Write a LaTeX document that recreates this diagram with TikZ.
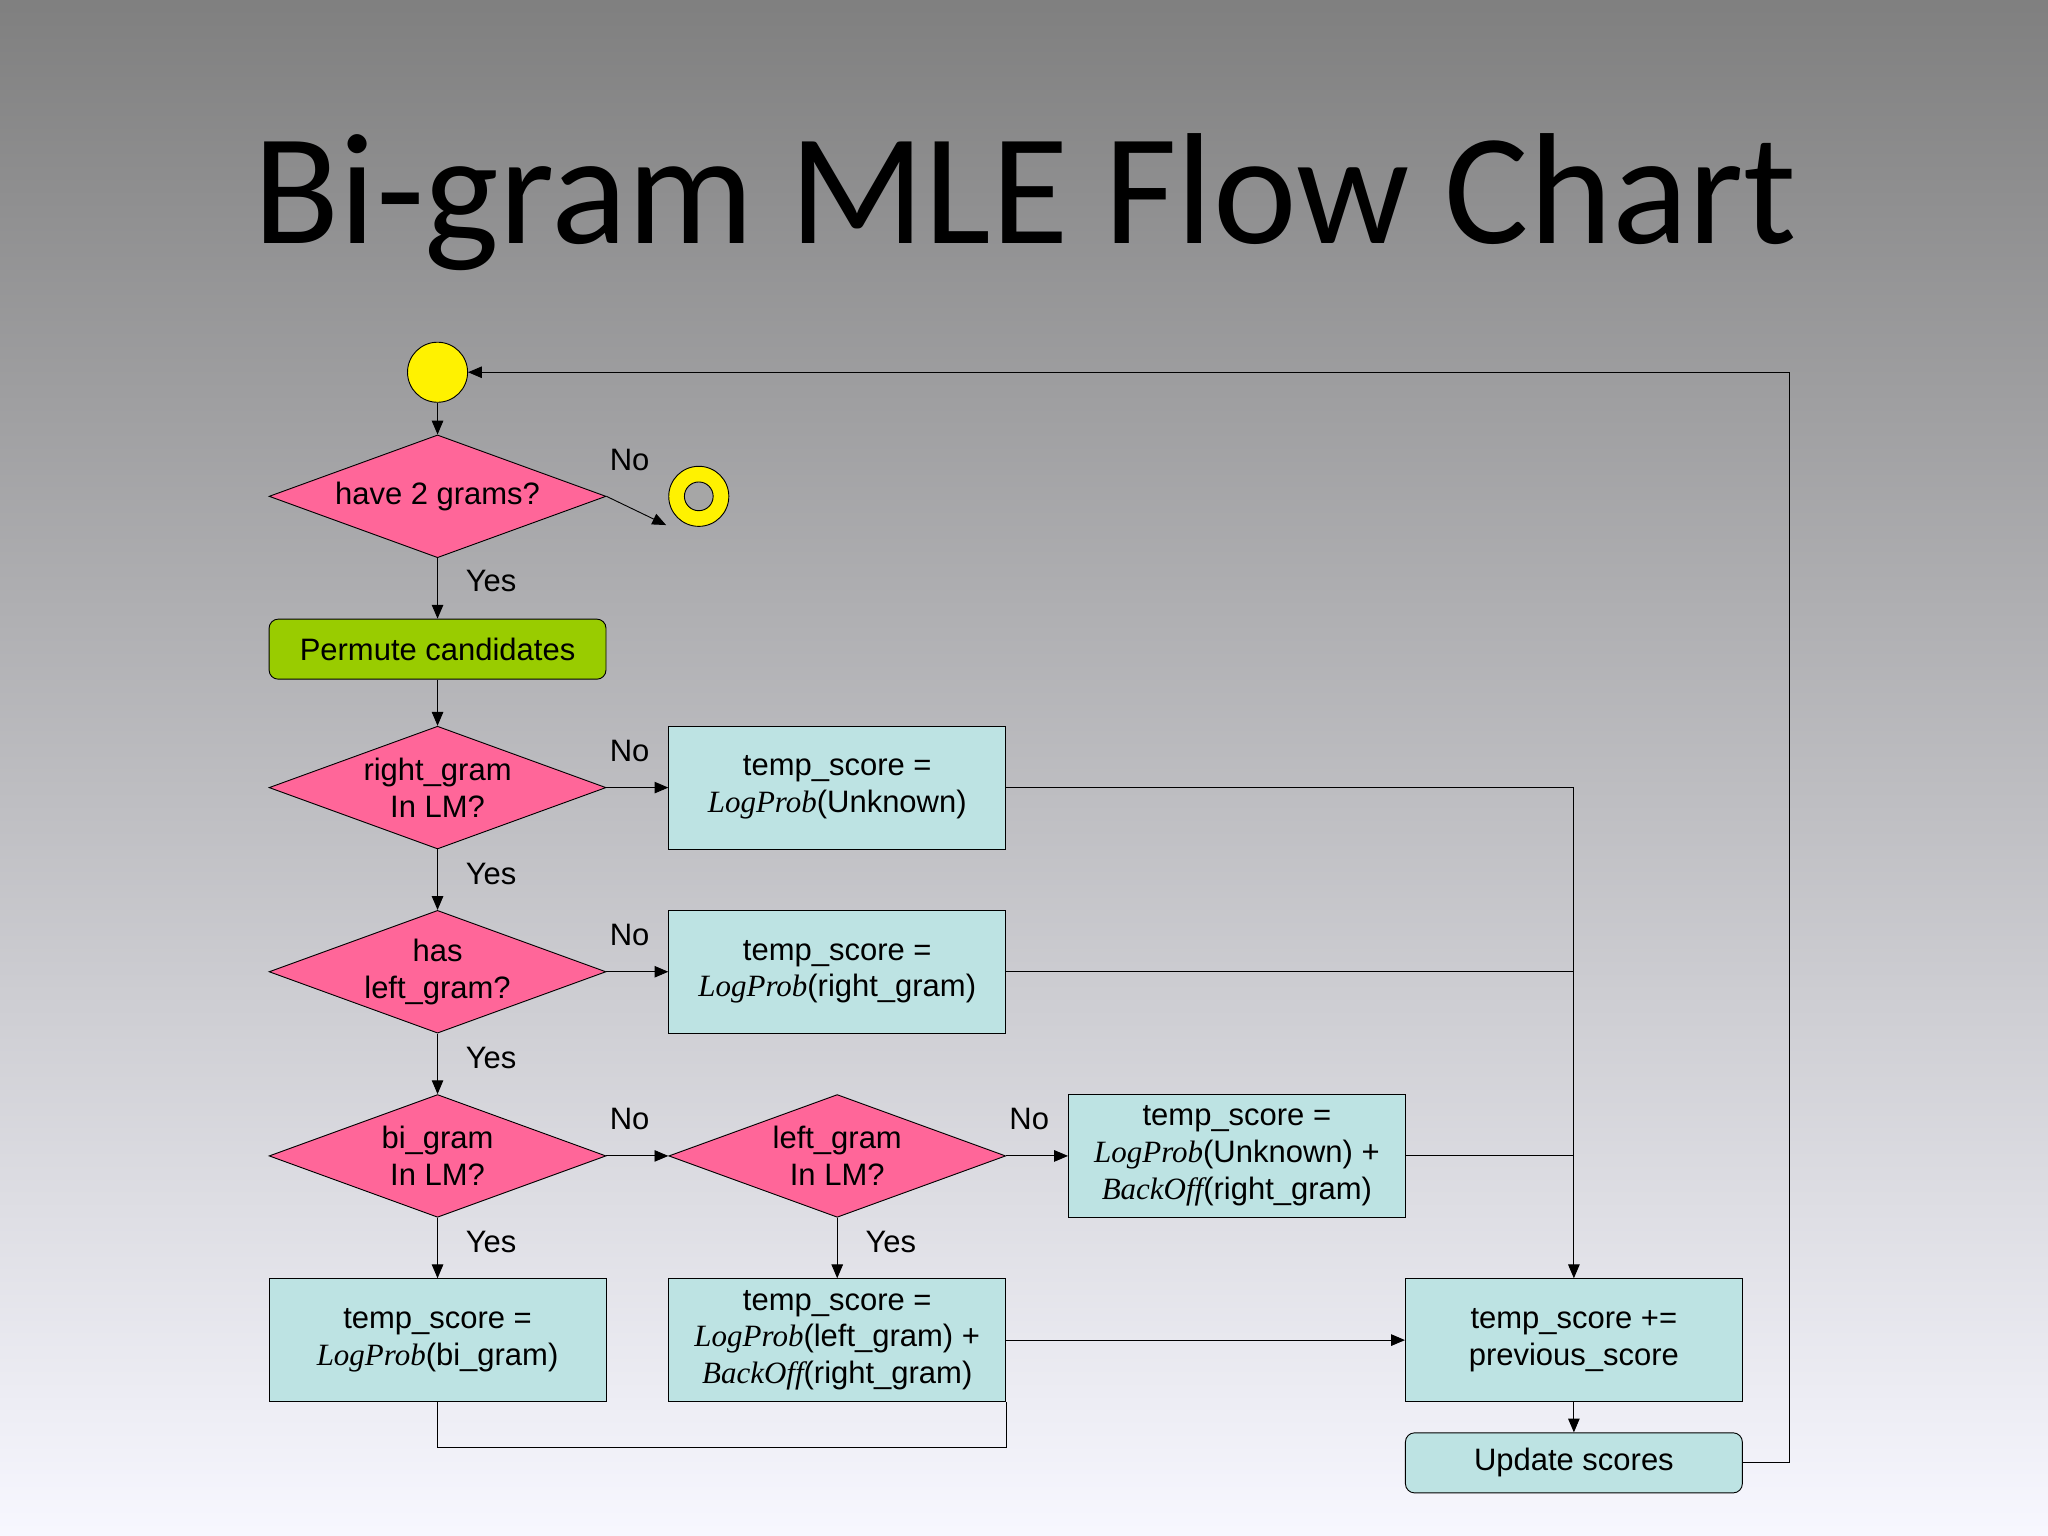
\documentclass[tikz,border=0pt]{standalone}
\usepackage{fontspec}
\setmainfont{Liberation Sans}
\newfontfamily\titlefont{Carlito}
\newfontfamily\serf{Liberation Serif}
\usetikzlibrary{shapes.geometric,arrows.meta}
\newcommand\lgp{{\serf\itshape LogProb}}
\newcommand\bko{{\serf\itshape BackOff}}
\definecolor{dia}{HTML}{FF6699}
\definecolor{bx}{HTML}{BDE3E3}
\definecolor{grn}{HTML}{99CC00}
\begin{document}
\begin{tikzpicture}[x=0.02cm,y=-0.02cm,
  font=\fontsize{13.5pt}{16pt}\selectfont,
  dm/.style={diamond,draw,fill=dia,minimum width=5.16cm,minimum height=1.88cm,inner sep=0pt},
  dt/.style={align=center,inner sep=0pt},
  bo/.style={rectangle,draw,fill=bx,minimum width=5.16cm,minimum height=1.88cm,inner sep=0pt,align=center},
  rb/.style={rectangle,rounded corners=4pt,draw,minimum width=5.16cm,minimum height=0.92cm,inner sep=0pt},
  ar/.style={-{Triangle[length=6pt,width=5pt]}},
  lb/.style={inner sep=0pt}]
\useasboundingbox (0,0) rectangle (1568,1176);
\fill[top color=black!50,bottom color=white!97!blue] (0,0) rectangle (1568,1176);
\node[lb,font=\titlefont\fontsize{69pt}{70pt}\selectfont] (title) at (785,155) {Bi-gram MLE Flow Chart};
\node[circle,draw,fill=yellow,minimum size=0.92cm,inner sep=0pt] (st) at (335,285) {};
\node[circle,draw,fill=yellow,minimum size=0.92cm,inner sep=0pt] (en) at (535,380) {};
\node[circle,draw,fill=black!35,minimum size=0.44cm,inner sep=0pt] (eni) at (535,380) {};
\node[dm] (d1) at (335,380) {};
\node[dt] (t1) at (d1) {have 2 grams?};
\node[rb,fill=grn] (perm) at (335,497) {Permute candidates};
\node[dm] (d2) at (335,603) {};
\node[dt] (t2) at (d2) {right\_gram\\In LM?};
\node[bo] (b1) at (641,603) {temp\_score =\\\lgp(Unknown)};
\node[dm] (d3) at (335,744) {};
\node[dt] (t3) at (d3) {has\\left\_gram?};
\node[bo] (b2) at (641,744) {temp\_score =\\\lgp(right\_gram)};
\node[dm] (d4) at (335,885) {};
\node[dt] (t4) at (d4) {bi\_gram\\In LM?};
\node[dm] (d5) at (641,885) {};
\node[dt] (t5) at (d5) {left\_gram\\In LM?};
\node[bo] (b3) at (947,885) {temp\_score =\\\lgp(Unknown) +\\\bko(right\_gram)};
\node[bo] (b4) at (335,1026) {temp\_score =\\\lgp(bi\_gram)};
\node[bo] (b5) at (641,1026) {temp\_score =\\\lgp(left\_gram) +\\\bko(right\_gram)};
\node[bo] (b6) at (1205,1026) {temp\_score +=\\previous\_score};
\node[rb,fill=bx] (up) at (1205,1120) {Update scores};
\coordinate (c1) at (1205,603);
\coordinate (c2) at (1370,1120);
\coordinate (c3) at (1370,285);
\coordinate (c4) at (510,402);
\coordinate (c5) at (335,1108);
\draw[ar] (st) -- (d1);
\draw[ar] (d1.east) -- (c4);
\draw[ar] (d1) -- (perm);
\draw[ar] (perm) -- (d2);
\draw[ar] (d2) -- (b1);
\draw[ar] (d2) -- (d3);
\draw[ar] (d3) -- (b2);
\draw[ar] (d3) -- (d4);
\draw[ar] (d4) -- (d5);
\draw[ar] (d5) -- (b3);
\draw[ar] (d4) -- (b4);
\draw[ar] (d5) -- (b5);
\draw (b1.east) -- (c1);
\draw[ar] (c1) -- (b6);
\draw (b2.east) -- (b2.east -| c1);
\draw (b3.east) -- (b3.east -| c1);
\draw[ar] (b5) -- (b6);
\draw[ar] (b6) -- (up);
\draw (b4.south) -- (c5) -- (c5 -| b5.east) -- (b5.south east);
\draw[ar] (up.east) -- (c2) -- (c3) -- (st);
\foreach \p in {(482,352),(482,575),(482,716),(482,857),(788,857)} \node[lb] at \p {No};
\foreach \p in {(376,445),(376,669),(376,810),(376,951),(682,951)} \node[lb] at \p {Yes};
\end{tikzpicture}
\end{document}
